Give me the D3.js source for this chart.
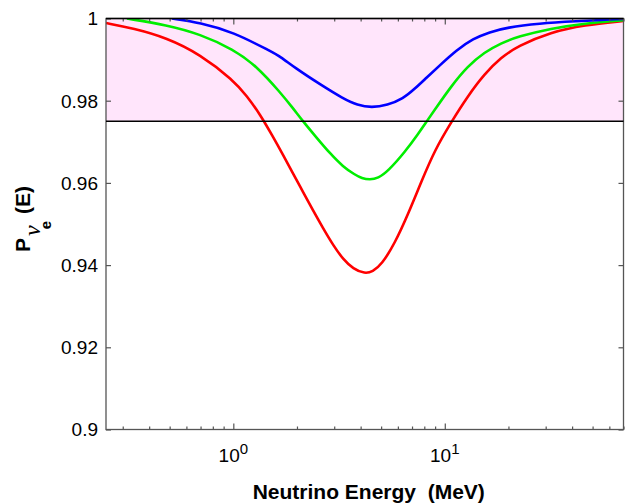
<!DOCTYPE html>
<html>
<head>
<meta charset="utf-8">
<script src="https://cdn.jsdelivr.net/npm/d3@7"></script>
<style>
  body { margin: 0; background: #fff; }
  svg { display: block; font-family: "Liberation Sans", Arial, sans-serif; }
</style>
</head>
<body>
<div id="chart"></div>
<script>
// Survival probability (energy in MeV)
const redE = [0.25, 0.337, 0.485, 0.696, 1.0, 1.157, 1.337, 1.545, 1.723, 1.92, 2.141, 2.387, 2.662, 2.968, 3.308, 3.688, 4.189, 4.556, 5.023, 5.805, 6.708, 7.761, 8.97, 10.76, 12.84, 15.4, 18.45, 22.12, 31.78, 45.69, 70];
const redP = [0.9989, 0.9976, 0.9953, 0.9913, 0.9850, 0.9812, 0.9767, 0.9711, 0.9667, 0.9622, 0.9577, 0.9532, 0.9489, 0.9448, 0.9414, 0.9391, 0.9379, 0.9384, 0.9401, 0.9453, 0.9524, 0.9604, 0.9680, 0.9749, 0.9811, 0.9865, 0.9905, 0.9933, 0.9967, 0.9984, 0.9994];

const greenE = [0.314, 0.485, 0.696, 1.0, 1.29, 1.662, 1.92, 2.134, 2.477, 2.862, 3.308, 3.757, 4.054, 4.423, 4.826, 5.397, 6.471, 7.478, 8.196, 8.97, 10.71, 12.84, 15.4, 18.45, 22.12, 31.78, 45.69, 70];
const greenP = [1.0, 0.9984, 0.9962, 0.9925, 0.9884, 0.9821, 0.9781, 0.9750, 0.9710, 0.9672, 0.9639, 0.9620, 0.9611, 0.9608, 0.9611, 0.9629, 0.9675, 0.9719, 0.9749, 0.9778, 0.9835, 0.9884, 0.9918, 0.9940, 0.9956, 0.9976, 0.9988, 0.9996];

const blueE = [0.512, 0.696, 1.0, 1.491, 1.662, 1.956, 2.568, 3.308, 3.862, 4.507, 5.35, 6.353, 7.216, 8.196, 9.471, 11.36, 13.61, 16.32, 19.56, 28.1, 40.36, 70];
const blueP = [1.0, 0.9990, 0.9967, 0.9921, 0.9908, 0.9880, 0.9840, 0.9805, 0.9789, 0.9783, 0.9789, 0.9805, 0.9829, 0.9856, 0.9886, 0.9923, 0.9951, 0.9967, 0.9978, 0.9988, 0.9993, 0.9999];

const xMajor = [1, 10];
const xMajorExp = ['0', '1'];
const xMinor = [0.3, 0.4, 0.5, 0.6, 0.7, 0.8, 0.9, 2, 3, 4, 5, 6, 7, 8, 9, 20, 30, 40, 50, 60, 70];
const yTicks = [0.9, 0.92, 0.94, 0.96, 0.98, 1];
const yTickLabels = ['0.9', '0.92', '0.94', '0.96', '0.98', '1'];
const band = [0.975, 1];

const margin = { top: 18.5, right: 12.5, bottom: 74.5, left: 106 },
  width = 636 - margin.left - margin.right,
  height = 504 - margin.top - margin.bottom;

const svg = d3.select('#chart')
  .append('svg')
  .attr('width', 636)
  .attr('height', 504);

const g = svg.append('g')
  .attr('transform', `translate(${margin.left},${margin.top})`);

const x = d3.scaleLog().domain([0.25, 70]).range([0, width]);
const y = d3.scaleLinear().domain([0.9, 1]).range([height, 0]);

// shaded band
g.append('rect')
  .attr('x', 0)
  .attr('y', y(band[1]))
  .attr('width', width)
  .attr('height', y(band[0]) - y(band[1]))
  .attr('fill', '#ffe5fb');

g.append('defs').append('clipPath').attr('id', 'clip')
  .append('rect').attr('width', width).attr('height', height);

// curves (b-spline smooths out reading noise)
const line = d3.line()
  .x(d => x(d[0]))
  .y(d => y(d[1]))
  .curve(d3.curveBasis);

const series = [
  { e: redE, p: redP, color: '#ff0000' },
  { e: greenE, p: greenP, color: '#00ee00' },
  { e: blueE, p: blueP, color: '#0000ff' }
];

g.append('g').attr('clip-path', 'url(#clip)')
  .selectAll('path')
  .data(series)
  .join('path')
  .attr('d', s => line(s.e.map((v, i) => [v, s.p[i]])))
  .attr('fill', 'none')
  .attr('stroke', s => s.color)
  .attr('stroke-width', 2.6)
  .attr('stroke-linejoin', 'round');

// frame and ticks
const axisColor = '#555';
function styleAxis(sel) {
  sel.select('.domain').remove();
  sel.selectAll('line').attr('stroke', axisColor).attr('stroke-width', 1.2);
}

g.append('g').call(d3.axisLeft(y).tickValues(yTicks).tickSize(-5).tickFormat('')).call(styleAxis);
g.append('g').attr('transform', `translate(${width},0)`)
  .call(d3.axisRight(y).tickValues(yTicks).tickSize(-5).tickFormat('')).call(styleAxis);
g.append('g').attr('transform', `translate(0,${height})`)
  .call(d3.axisBottom(x).tickValues(xMajor).tickSize(-6).tickFormat('')).call(styleAxis);
g.append('g').attr('transform', `translate(0,${height})`)
  .call(d3.axisBottom(x).tickValues(xMinor).tickSize(-3).tickFormat('')).call(styleAxis);
g.append('g')
  .call(d3.axisTop(x).tickValues(xMajor).tickSize(-6).tickFormat('')).call(styleAxis);
g.append('g')
  .call(d3.axisTop(x).tickValues(xMinor).tickSize(-3).tickFormat('')).call(styleAxis);

g.append('rect')
  .attr('width', width)
  .attr('height', height)
  .attr('fill', 'none')
  .attr('stroke', axisColor)
  .attr('stroke-width', 1.3);

// band edges
g.selectAll('.bandline')
  .data(band)
  .join('line')
  .attr('x1', 0)
  .attr('x2', width)
  .attr('y1', d => y(d))
  .attr('y2', d => y(d))
  .attr('stroke', '#000')
  .attr('stroke-width', 1.3);

// y tick labels
g.selectAll('.ylab')
  .data(yTicks)
  .join('text')
  .attr('x', -8)
  .attr('y', d => y(d))
  .attr('dy', '0.36em')
  .attr('text-anchor', 'end')
  .attr('font-size', 19)
  .text((d, i) => yTickLabels[i]);

// x tick labels 10^n
const xl = g.selectAll('.xlab')
  .data(xMajor)
  .join('text')
  .attr('x', d => x(d))
  .attr('y', height + 32.5)
  .attr('text-anchor', 'middle')
  .attr('font-size', 19);
xl.append('tspan').text('10');
xl.append('tspan').attr('dy', -8).attr('font-size', 15).text((d, i) => xMajorExp[i]);

// axis titles
g.append('text')
  .attr('x', width / 2 + 4)
  .attr('y', height + 69)
  .attr('text-anchor', 'middle')
  .attr('font-size', 21)
  .attr('font-weight', 'bold')
  .style('white-space', 'pre')
  .text('Neutrino Energy  (MeV)');

const yt = svg.append('text')
  .attr('transform', 'translate(30,252) rotate(-90)')
  .attr('font-size', 21)
  .attr('font-weight', 'bold');
yt.append('tspan').text('P');
yt.append('tspan')
  .attr('font-family', '"Liberation Serif", serif')
  .attr('font-style', 'italic')
  .attr('font-weight', 'normal')
  .attr('font-size', 24)
  .attr('dx', 2)
  .attr('dy', 10)
  .text('ν');
yt.append('tspan')
  .attr('font-size', 15)
  .attr('dx', -4)
  .attr('dy', 11)
  .text('e');
yt.append('tspan')
  .attr('dx', 7)
  .attr('dy', -21)
  .text('(E)');
</script>
</body>
</html>
